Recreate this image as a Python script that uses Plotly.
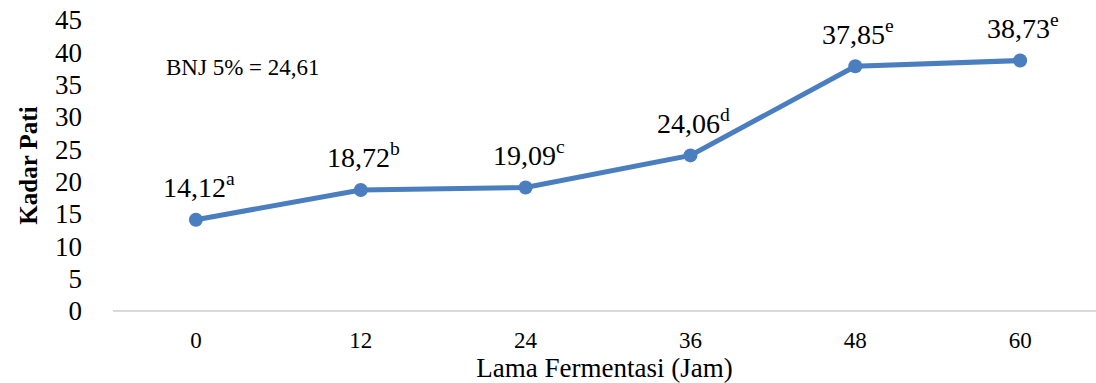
import plotly.graph_objects as go

# Starch content over fermentation time
jam = ["0", "12", "24", "36", "48", "60"]
kadar_pati = [14.12, 18.72, 19.09, 24.06, 37.85, 38.73]
notasi = ["a", "b", "c", "d", "e", "e"]
y_ticks = [0, 5, 10, 15, 20, 25, 30, 35, 40, 45]

LINE_COLOR = "#4A7EBF"
FONT = "Liberation Serif, Times New Roman, serif"

fig = go.Figure()
fig.add_trace(go.Scatter(
    x=jam, y=kadar_pati,
    mode="lines+markers",
    line=dict(color=LINE_COLOR, width=5),
    marker=dict(color=LINE_COLOR, size=14),
    showlegend=False,
    hoverinfo="skip",
))

# value labels with significance letters (x given as category index)
for i, (yv, s) in enumerate(zip(kadar_pati, notasi)):
    label = f"{yv:.2f}".replace(".", ",") + f"<sup>{s}</sup>"
    fig.add_annotation(
        x=i, y=yv, text=label, showarrow=False,
        yshift=34, xshift=3,
        font=dict(family=FONT, size=28, color="#000000"),
    )

fig.add_annotation(
    x=0.052, y=37.6, xref="paper", yref="y", xanchor="left",
    text="BNJ 5% = 24,61", showarrow=False,
    font=dict(family=FONT, size=23, color="#000000"),
)

fig.update_layout(
    width=1096, height=383,
    margin=dict(l=113, r=0, t=20, b=72),
    paper_bgcolor="white", plot_bgcolor="white",
    font=dict(family=FONT, color="#000000"),
)
fig.update_xaxes(
    type="category", range=[-0.503, 5.46],
    showgrid=False, showline=False, zeroline=False,
    ticks="", ticklabelstandoff=13,
    tickfont=dict(family=FONT, size=23),
    title=dict(text="Lama Fermentasi (Jam)", font=dict(family=FONT, size=27), standoff=6),
)
fig.update_yaxes(
    range=[0, 45], tickvals=y_ticks,
    showgrid=False, showline=False,
    zeroline=True, zerolinecolor="#D9D9D9", zerolinewidth=2,
    ticks="", ticklabelstandoff=30,
    tickfont=dict(family=FONT, size=27),
    title=dict(text="<b>Kadar Pati</b>", font=dict(family=FONT, size=25), standoff=10),
)

fig.write_html("out.html")
